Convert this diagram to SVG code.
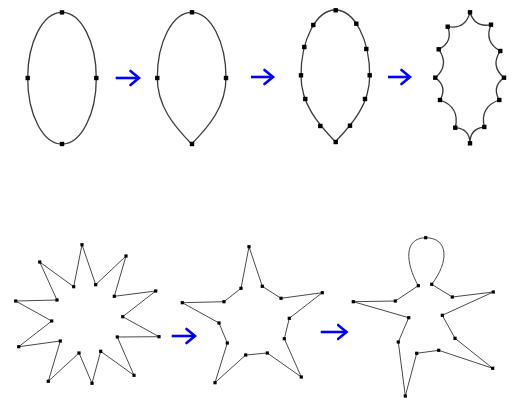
<svg xmlns="http://www.w3.org/2000/svg" xmlns:xlink="http://www.w3.org/1999/xlink" width="512" height="398" viewBox="0 0 512 398">
<style>
.curve{fill:none;stroke:#3a3a3a;stroke-width:1.3}
.poly{fill:none;stroke:#4a4a4a;stroke-width:1}
.arrow{fill:none;stroke:#0000ff;stroke-width:2.6}
.pt{fill:#000}
</style>
<defs>
<rect id="pb" x="-2.2" y="-2.2" width="4.4" height="4.4" class="pt"/>
<rect id="ps" x="-1.6" y="-1.6" width="3.2" height="3.2" class="pt"/>
<marker id="ah" markerUnits="userSpaceOnUse" markerWidth="14" markerHeight="18" refX="10" refY="9" orient="auto">
<path d="M1.5,2 L10,9 L1.5,16" fill="none" stroke="#0000ff" stroke-width="2.6" stroke-linecap="round"/>
</marker>
</defs>
<rect width="512" height="398" fill="#fff"/>

<g id="shape1">
<ellipse class="curve" cx="62" cy="78.2" rx="34.3" ry="65.8"/>
<use xlink:href="#pb" x="62" y="12.4"/>
<use xlink:href="#pb" x="27.7" y="78"/>
<use xlink:href="#pb" x="96.3" y="78"/>
<use xlink:href="#pb" x="62" y="144"/>
</g>

<g id="shape2">
<path class="curve" d="M191.65,12.3 A34.35,65.7 0 0 1 226,78 C226,106 209.3,126 191.65,144 C174,126 157.3,106 157.3,78 A34.35,65.7 0 0 1 191.65,12.3 Z"/>
<use xlink:href="#pb" x="192" y="12.3"/>
<use xlink:href="#pb" x="157.3" y="78"/>
<use xlink:href="#pb" x="226" y="78"/>
<use xlink:href="#pb" x="192" y="144"/>
</g>

<g id="shape3">
<path class="curve" transform="translate(143.7,-2.3)" d="M191.65,12.3 A34.35,65.7 0 0 1 226,78 C226,106 209.3,126 191.65,144 C174,126 157.3,106 157.3,78 A34.35,65.7 0 0 1 191.65,12.3 Z"/>
<use xlink:href="#pb" x="335.7" y="10.3"/>
<use xlink:href="#pb" x="313.3" y="25"/>
<use xlink:href="#pb" x="356.3" y="23.7"/>
<use xlink:href="#pb" x="304.3" y="47"/>
<use xlink:href="#pb" x="366.3" y="49"/>
<use xlink:href="#pb" x="301" y="75.3"/>
<use xlink:href="#pb" x="369.7" y="75.3"/>
<use xlink:href="#pb" x="305.3" y="99"/>
<use xlink:href="#pb" x="365" y="99"/>
<use xlink:href="#pb" x="320.3" y="126"/>
<use xlink:href="#pb" x="350" y="125.7"/>
<use xlink:href="#pb" x="335.7" y="142"/>
</g>

<g id="shape4">
<path class="curve" d="M470,12.3 Q474.9,28 491,24.7 Q483.8,42 500.3,51 Q490.1,66 504,77.7 Q491.6,86.7 499.3,100 Q479.7,106.8 484.3,127 Q469.8,128.7 470,143.3 Q469.7,128.9 455.3,127.7 Q460.1,107 440,100 Q447.7,86.7 435.3,77.7 Q449.8,65 438.7,49.3 Q453.4,42 447.7,26.7 Q465.3,29.5 470,12.3 Z"/>
<use xlink:href="#pb" x="470" y="12.3"/>
<use xlink:href="#pb" x="491" y="24.7"/>
<use xlink:href="#pb" x="500.3" y="51"/>
<use xlink:href="#pb" x="504" y="77.7"/>
<use xlink:href="#pb" x="499.3" y="100"/>
<use xlink:href="#pb" x="484.3" y="127"/>
<use xlink:href="#pb" x="470" y="143.3"/>
<use xlink:href="#pb" x="455.3" y="127.7"/>
<use xlink:href="#pb" x="440" y="100"/>
<use xlink:href="#pb" x="435.3" y="77.7"/>
<use xlink:href="#pb" x="438.7" y="49.3"/>
<use xlink:href="#pb" x="447.7" y="26.7"/>
</g>

<g id="shape5">
<polygon class="poly" points="82,244.7 95.7,284.7 126,256 114.3,296.3 155.7,291 122.7,316.7 159,336.7 117.3,337 134,375.3 100.7,351.3 92,383.3 79,353 48.3,381.3 60.3,341 18.7,346.7 51.7,321 15.7,301 57,300 39.7,262 73.7,286.7"/>
<use xlink:href="#ps" x="82" y="244.7"/>
<use xlink:href="#ps" x="95.7" y="284.7"/>
<use xlink:href="#ps" x="126" y="256"/>
<use xlink:href="#ps" x="114.3" y="296.3"/>
<use xlink:href="#ps" x="155.7" y="291"/>
<use xlink:href="#ps" x="122.7" y="316.7"/>
<use xlink:href="#ps" x="159" y="336.7"/>
<use xlink:href="#ps" x="117.3" y="337"/>
<use xlink:href="#ps" x="134" y="375.3"/>
<use xlink:href="#ps" x="100.7" y="351.3"/>
<use xlink:href="#ps" x="92" y="383.3"/>
<use xlink:href="#ps" x="79" y="353"/>
<use xlink:href="#ps" x="48.3" y="381.3"/>
<use xlink:href="#ps" x="60.3" y="341"/>
<use xlink:href="#ps" x="18.7" y="346.7"/>
<use xlink:href="#ps" x="51.7" y="321"/>
<use xlink:href="#ps" x="15.7" y="301"/>
<use xlink:href="#ps" x="57" y="300"/>
<use xlink:href="#ps" x="39.7" y="262"/>
<use xlink:href="#ps" x="73.7" y="286.7"/>
</g>

<g id="shape6">
<polygon class="poly" points="249,246.7 262.3,286.3 281,298.3 322.3,292.7 289.3,318.3 284.3,338.7 301.3,377 267.3,353 245.7,355 215,382.7 227.3,343 219,323 182.3,302.7 224,301.7 241,288.3"/>
<use xlink:href="#ps" x="249" y="246.7"/>
<use xlink:href="#ps" x="262.3" y="286.3"/>
<use xlink:href="#ps" x="281" y="298.3"/>
<use xlink:href="#ps" x="322.3" y="292.7"/>
<use xlink:href="#ps" x="289.3" y="318.3"/>
<use xlink:href="#ps" x="284.3" y="338.7"/>
<use xlink:href="#ps" x="301.3" y="377"/>
<use xlink:href="#ps" x="267.3" y="353"/>
<use xlink:href="#ps" x="245.7" y="355"/>
<use xlink:href="#ps" x="215" y="382.7"/>
<use xlink:href="#ps" x="227.3" y="343"/>
<use xlink:href="#ps" x="219" y="323"/>
<use xlink:href="#ps" x="182.3" y="302.7"/>
<use xlink:href="#ps" x="224" y="301.7"/>
<use xlink:href="#ps" x="241" y="288.3"/>
</g>

<g id="shape7">
<path class="poly" d="M418.3,285.7 C405,262 404,238 425.7,237.7 C449,238 449,262 431.7,284.3 L452.3,297 L493.3,292 L442.3,315.3 L455,338.3 L492.7,368.3 L438.7,350.3 L416.7,353.3 L405.3,396 L398.3,342 L408.7,317.7 L353.3,301.7 L395.3,301 Z"/>
<use xlink:href="#ps" x="425.7" y="237.7"/>
<use xlink:href="#ps" x="418.3" y="285.7"/>
<use xlink:href="#ps" x="431.7" y="284.3"/>
<use xlink:href="#ps" x="452.3" y="297"/>
<use xlink:href="#ps" x="493.3" y="292"/>
<use xlink:href="#ps" x="442.3" y="315.3"/>
<use xlink:href="#ps" x="455" y="338.3"/>
<use xlink:href="#ps" x="492.7" y="368.3"/>
<use xlink:href="#ps" x="438.7" y="350.3"/>
<use xlink:href="#ps" x="416.7" y="353.3"/>
<use xlink:href="#ps" x="405.3" y="396"/>
<use xlink:href="#ps" x="398.3" y="342"/>
<use xlink:href="#ps" x="408.7" y="317.7"/>
<use xlink:href="#ps" x="353.3" y="301.7"/>
<use xlink:href="#ps" x="395.3" y="301"/>
</g>

<g id="connectors">
<line class="arrow" x1="115.7" y1="78" x2="139" y2="78" marker-end="url(#ah)"/>
<line class="arrow" x1="251" y1="77" x2="273" y2="77" marker-end="url(#ah)"/>
<line class="arrow" x1="388" y1="77" x2="410" y2="77" marker-end="url(#ah)"/>
<line class="arrow" x1="171.7" y1="336" x2="195" y2="336" marker-end="url(#ah)"/>
<line class="arrow" x1="320.7" y1="332" x2="346.5" y2="332" marker-end="url(#ah)"/>
</g>
</svg>
